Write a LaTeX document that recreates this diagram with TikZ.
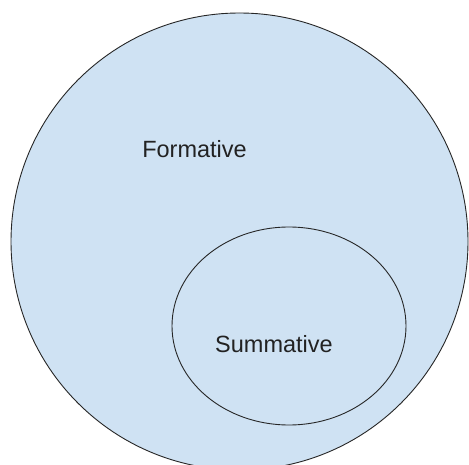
\documentclass[tikz,border=0pt]{standalone}
\usepackage{fontspec}
\setmainfont{Liberation Sans}
\usetikzlibrary{shapes.geometric}
\definecolor{setfill}{HTML}{CFE2F3}
\definecolor{inktext}{HTML}{222222}
\tikzset{
  setline/.style={draw=black!85, line width=0.9pt, fill=setfill, inner sep=0pt},
  setlabel/.style={text=inktext, font=\fontsize{23.5}{26}\selectfont, inner sep=0pt}
}
\begin{document}
\begin{tikzpicture}[x=1pt,y=1pt]
\useasboundingbox (0,0) rectangle (469,464);
\clip (0,0) rectangle (469,464);
\fill[white] (0,0) rectangle (469,464);
\node[setline, circle, minimum size=457pt] (formset) at (239.5,222.5) {};
\node[setline, ellipse, minimum width=234pt, minimum height=198pt] (sumset) at (289,138) {};
\node[setlabel] (formlabel) at (194.5,315) {Formative};
\node[setlabel] (sumlabel) at (274,120) {Summative};
\end{tikzpicture}
\end{document}
